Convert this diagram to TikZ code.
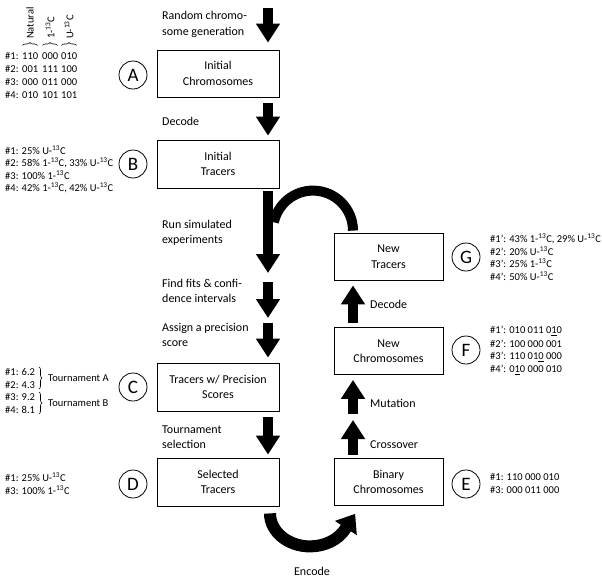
\documentclass[tikz,border=0pt]{standalone}
\usepackage{fontspec}
\setmainfont{Carlito}
\usetikzlibrary{arrows.meta,decorations.pathreplacing,calc}
\newcommand{\tC}{\textsuperscript{13}C}
\begin{document}
\begin{tikzpicture}[x=1pt,y=-1pt,
  boxl/.style={draw, line width=0.8pt, minimum width=122pt, minimum height=48pt, align=center, font=\fontsize{12}{15.5}\selectfont, inner sep=0pt},
  boxr/.style={boxl, minimum width=109pt, minimum height=47pt},
  circ/.style={draw, circle, line width=0.8pt, minimum size=28pt, inner sep=0pt, font=\fontsize{19}{19}\selectfont},
  lbl/.style={align=left, anchor=west, font=\fontsize{12}{15.5}\selectfont, inner sep=0pt},
  sm/.style={align=left, anchor=west, font=\fontsize{10.5}{13}\selectfont, inner sep=0pt},
  bigarrow/.style={line width=10.5pt, -{Triangle[length=19pt,width=23pt]}},
  arcline/.style={line width=10pt},
  encline/.style={line width=12pt, -{Triangle[length=17pt,width=25pt]}},
  brace/.style={decorate, decoration={brace, amplitude=3pt}, line width=0.6pt}
]
\useasboundingbox (0,0) rectangle (602,578);

% boxes
\node[boxl, minimum height=47pt] (A) at (218,73.5) {Initial\\Chromosomes};
\node[boxl] (B) at (218,164) {Initial\\Tracers};
\node[boxl] (C) at (218,387) {Tracers w/ Precision\\Scores};
\node[boxl] (D) at (218,482) {Selected\\Tracers};
\node[boxr] (G) at (388.5,256.5) {New\\Tracers};
\node[boxr] (F) at (388.5,351) {New\\Chromosomes};
\node[boxr] (E) at (388.5,482) {Binary\\Chromosomes};

% circles
\node[circ] (cA) at (133,75) {A};
\node[circ] (cB) at (133,164) {B};
\node[circ] (cC) at (133,387) {C};
\node[circ] (cD) at (133,484) {D};
\node[circ] (cG) at (466,257) {G};
\node[circ] (cF) at (466,350) {F};
\node[circ] (cE) at (466,484) {E};

% step labels
\node[lbl] (t1) at (162,24.5) {Random chromo-\\some generation};
\node[lbl] (t2) at (162,121) {Decode};
\node[lbl] (t3) at (162,233) {Run simulated\\experiments};
\node[lbl] (t4) at (162,291) {Find fits \& confi-\\dence intervals};
\node[lbl] (t5) at (162,335) {Assign a precision\\score};
\node[lbl] (t6) at (162,437) {Tournament\\selection};
\node[lbl] (t7) at (370,304) {Decode};
\node[lbl] (t8) at (370,403) {Mutation};
\node[lbl] (t9) at (370,445) {Crossover};
\node[font=\fontsize{12}{16}\selectfont, inner sep=0pt] (t10) at (312,571) {Encode};

% arrow columns
\coordinate (cl) at (268,0);
\coordinate (cr) at (353,0);
\coordinate (p1) at (268,8);
\coordinate (m3) at (268,273);
\coordinate (m4s) at (268,282);
\coordinate (m4e) at (268,318);
\coordinate (m5s) at (268,323);
\coordinate (r1e) at (353,420);
\coordinate (r2s) at (353,414);

\draw[bigarrow, shorten >=7pt] (p1) -- (cl |- A.north);
\draw[bigarrow, shorten <=6pt, shorten >=4pt] (cl |- A.south) -- (cl |- B.north);
\draw[bigarrow, shorten <=3pt] (cl |- B.south) -- (m3);
\draw[bigarrow] (m4s) -- (m4e);
\draw[bigarrow, shorten >=5pt] (m5s) -- (cl |- C.north);
\draw[bigarrow, shorten <=6pt, shorten >=3pt] (cl |- C.south) -- (cl |- D.north);
\draw[bigarrow, shorten <=3pt] (cr |- E.north) -- (r1e);
\draw[bigarrow, shorten >=5pt] (r2s) -- (cr |- F.south);
\draw[bigarrow, shorten <=4pt, shorten >=5pt] (cr |- F.north) -- (cr |- G.south);

% loop arc from G back to the main column
\draw[arcline] (cr |- G.north) ++(0,-2) arc[start angle=0, end angle=-168, radius=40];

% encode arrow
\draw[encline] (cl |- D.south) ++(2,7) arc[start angle=180, end angle=28, x radius=40, y radius=33] -- ++(9.8,-15.1);

% header of initial chromosomes
\node[sm, rotate=90, anchor=west] (nat) at (30,39) {Natural};
\node[sm, rotate=90, anchor=west] (onec) at (50,39) {1-\tC};
\node[sm, rotate=90, anchor=west] (uc) at (69,39) {U-\tC};
\draw[brace] (22.5,45.5) -- (37.5,45.5);
\draw[brace] (42.5,45.5) -- (57.5,45.5);
\draw[brace] (61.5,45.5) -- (76.5,45.5);
\foreach \i/\y/\a/\b/\c in {1/56/110/000/010, 2/69/001/111/100, 3/82/000/011/000, 4/95/010/101/101} {
  \node[sm] (h\i) at (5,\y) {\#\i:};
  \node[sm] (h\i a) at (22,\y) {\a};
  \node[sm] (h\i b) at (42,\y) {\b};
  \node[sm] (h\i c) at (61,\y) {\c};
}

% B texts
\node[sm] (b1) at (5,150) {\#1: 25\% U-\tC};
\node[sm] (b2) at (5,162.5) {\#2: 58\% 1-\tC, 33\% U-\tC};
\node[sm] (b3) at (5,175) {\#3: 100\% 1-\tC};
\node[sm] (b4) at (5,187.5) {\#4: 42\% 1-\tC, 42\% U-\tC};

% C texts
\node[sm] (c1) at (5,372) {\#1: 6.2};
\node[sm] (c2) at (5,384.5) {\#2: 4.3};
\node[sm] (c3) at (5,397) {\#3: 9.2};
\node[sm] (c4) at (5,409.5) {\#4: 8.1};
\draw[brace] (39,367) -- (39,389);
\draw[brace] (39,392) -- (39,414);
\node[sm] (ta) at (48,378) {Tournament A};
\node[sm] (tb) at (48,403) {Tournament B};

% D texts
\node[sm] (d1) at (5,477) {\#1: 25\% U-\tC};
\node[sm] (d3) at (5,490) {\#3: 100\% 1-\tC};

% E texts
\node[sm] (e1) at (490,477) {\#1: 110 000 010};
\node[sm] (e3) at (490,490) {\#3: 000 011 000};

% F texts
\node[sm] (f1) at (490,331) {\#1’: 010 011 0\underline{1}0};
\node[sm] (f2) at (490,344) {\#2’: 100 000 001};
\node[sm] (f3) at (490,357) {\#3’: 110 01\underline{0} 000};
\node[sm] (f4) at (490,370) {\#4’: 0\underline{1}0 000 010};

% G texts
\node[sm] (g1) at (490,238.5) {\#1’: 43\% 1-\tC, 29\% U-\tC};
\node[sm] (g2) at (490,251) {\#2’: 20\% U-\tC};
\node[sm] (g3) at (490,263.5) {\#3’: 25\% 1-\tC};
\node[sm] (g4) at (490,276) {\#4’: 50\% U-\tC};
\end{tikzpicture}
\end{document}
